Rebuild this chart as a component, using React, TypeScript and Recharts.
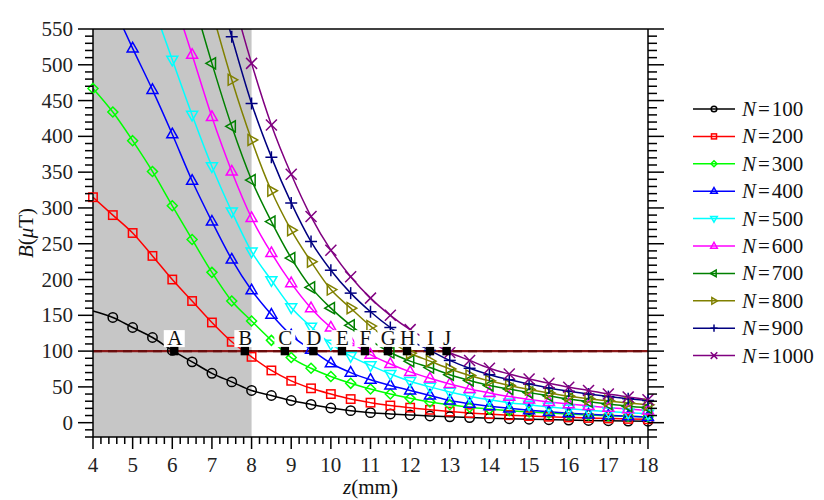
import React from 'react';
import {
  ComposedChart,
  Line,
  XAxis,
  YAxis,
  ReferenceArea,
  ReferenceLine,
  Legend,
} from 'recharts';

// axial distance z (mm), one sample every 0.5 mm
const zMm = [4, 4.5, 5, 5.5, 6, 6.5, 7, 7.5, 8, 8.5, 9, 9.5, 10, 10.5, 11, 11.5, 12, 12.5, 13, 13.5, 14, 14.5, 15, 15.5, 16, 16.5, 17, 17.5, 18];

// field B (uT) on the axis for each winding count
const bN100 = [156, 147, 133, 119, 101, 85, 69, 57, 45, 38, 31, 25.5, 20.5, 16.8, 14, 12.2, 10.8, 9.4, 8.2, 7.2, 6.3, 5.5, 4.8, 4.2, 3.6, 3.1, 2.7, 2.3, 2];
const bN200 = [315, 290, 265, 233, 200, 170, 140, 113, 92, 73, 58.5, 48, 40, 33, 28, 24, 21, 18, 15.5, 13.5, 12, 10.5, 9.3, 8.3, 7.4, 6.6, 5.9, 5.3, 4.8];
const bN300 = [467, 434, 394, 351, 303, 256, 210, 170, 142, 115, 91, 76, 64.5, 55, 47, 40, 34, 29, 25, 21.5, 19, 16.8, 15, 13.4, 12, 10.8, 9.8, 8.9, 8.1];
const bN400 = [643, 583, 523, 465, 403, 338, 281, 228, 185, 151, 122, 102, 83, 70, 60, 52, 45, 38, 31, 26.5, 23, 20, 17.5, 15.2, 13.3, 11.7, 10.3, 9, 8];
const bN500 = [825, 745, 665, 585, 507, 430, 358, 295, 239, 199, 161, 134, 110, 93, 80, 68, 58, 50, 43, 37, 32, 28, 25, 22, 19.5, 17.5, 15.5, 14, 12.5];
const bN600 = [975, 880, 785, 690, 600, 514, 427, 351, 286, 237, 195, 160, 133, 113, 95, 82, 71, 62, 54, 47, 41.5, 36.5, 32.5, 29, 26, 23.5, 21, 19, 17];
const bN700 = [1100, 1000, 900, 800, 700, 598, 502, 414, 339, 281, 230, 189, 160, 136, 115, 98, 86, 77, 67, 59, 52, 47, 42, 37.5, 33, 29.5, 26, 23, 21];
const bN800 = [1200, 1095, 990, 885, 780, 675, 575, 479, 395, 324, 269, 225, 186, 160, 135, 114, 97, 86, 75, 66, 58.5, 52, 46.5, 41.5, 37, 33.5, 30.5, 27.5, 25];
const bN900 = [1270, 1165, 1060, 955, 850, 745, 640, 539, 446, 371, 307, 253, 213, 181, 155, 133, 115, 101, 87, 76, 67, 60, 54, 48.5, 44, 40, 36.5, 33.5, 31];
const bN1000 = [1335, 1230, 1125, 1020, 915, 810, 705, 600, 502, 416, 347, 288, 241, 204, 174, 150, 130, 114, 98, 87, 76, 68, 61, 55, 49.5, 45, 40, 36, 32];

const turns = [100, 200, 300, 400, 500, 600, 700, 800, 900, 1000];
const fields = [bN100, bN200, bN300, bN400, bN500, bN600, bN700, bN800, bN900, bN1000];

// 100 uT threshold and where each curve drops through it
const threshold = 100;
const crossZ = [6.05, 7.83, 8.84, 9.56, 10.28, 10.86, 11.44, 11.92, 12.5, 12.92];
const crossNames = ['A', 'B', 'C', 'D', 'E', 'F', 'G', 'H', 'I', 'J'];

// shaded zone along z
const shadeFrom = 4;
const shadeTo = 8;

// firstDot: index of the first sample that gets a marker
const seriesStyle = [
  { color: '#000000', shape: 'circle', firstDot: 1 },
  { color: '#ff0000', shape: 'square', firstDot: 0 },
  { color: '#00ff00', shape: 'diamond', firstDot: 0 },
  { color: '#0000ff', shape: 'up', firstDot: 0 },
  { color: '#00ffff', shape: 'down', firstDot: 0 },
  { color: '#ff00ff', shape: 'up', firstDot: 0 },
  { color: '#008000', shape: 'left', firstDot: 0 },
  { color: '#808000', shape: 'right', firstDot: 0 },
  { color: '#000080', shape: 'plus', firstDot: 0 },
  { color: '#800080', shape: 'cross', firstDot: 0 },
];

const FONT = '"Liberation Serif", "Times New Roman", serif';
const FS = 21;

const steps = (from: number, to: number, step: number) => {
  const out: number[] = [];
  for (let v = from; v <= to + 1e-9; v += step) out.push(Math.round(v * 100) / 100);
  return out;
};
const xTicks = steps(4, 18, 0.2);
const yTicks = steps(-20, 550, 10);
const isInt = (v: number) => Math.abs(v - Math.round(v)) < 1e-6;

function Marker({ shape, cx, cy, color, k = 1 }: any) {
  const p = { fill: 'none', stroke: color, strokeWidth: 1.5 };
  switch (shape) {
    case 'circle':
      return <circle cx={cx} cy={cy} r={4.7 * k} {...p} />;
    case 'square': {
      const s = 4.2 * k;
      return <rect x={cx - s} y={cy - s} width={2 * s} height={2 * s} {...p} />;
    }
    case 'diamond': {
      const s = 5 * k;
      return <polygon points={`${cx},${cy - s} ${cx + s},${cy} ${cx},${cy + s} ${cx - s},${cy}`} {...p} />;
    }
    case 'up': {
      const s = 5.5 * k;
      return <polygon points={`${cx},${cy - s * 1.1} ${cx + s},${cy + s * 0.65} ${cx - s},${cy + s * 0.65}`} {...p} />;
    }
    case 'down': {
      const s = 5.5 * k;
      return <polygon points={`${cx},${cy + s * 1.1} ${cx + s},${cy - s * 0.65} ${cx - s},${cy - s * 0.65}`} {...p} />;
    }
    case 'left': {
      const s = 5.5 * k;
      return <polygon points={`${cx - s * 1.1},${cy} ${cx + s * 0.65},${cy - s} ${cx + s * 0.65},${cy + s}`} {...p} />;
    }
    case 'right': {
      const s = 5.5 * k;
      return <polygon points={`${cx + s * 1.1},${cy} ${cx - s * 0.65},${cy - s} ${cx - s * 0.65},${cy + s}`} {...p} />;
    }
    case 'plus': {
      const s = 6 * k;
      return (
        <g {...p}>
          <line x1={cx - s} y1={cy} x2={cx + s} y2={cy} />
          <line x1={cx} y1={cy - s} x2={cx} y2={cy + s} />
        </g>
      );
    }
    default: {
      const s = 5.5 * k;
      return (
        <g {...p}>
          <line x1={cx - s} y1={cy - s} x2={cx + s} y2={cy + s} />
          <line x1={cx - s} y1={cy + s} x2={cx + s} y2={cy - s} />
        </g>
      );
    }
  }
}

// frame ticks: long at labelled values, short in between
const BottomTick = ({ x, y, payload }: any) => {
  const major = isInt(payload.value);
  return (
    <g>
      <line x1={x} y1={y} x2={x} y2={y + (major ? 12 : 7)} stroke="#000" strokeWidth={1.5} />
      {major && (
        <text x={x} y={y + 35} textAnchor="middle" fontFamily={FONT} fontSize={FS} fill="#222">
          {Math.round(payload.value)}
        </text>
      )}
    </g>
  );
};

const TopTick = ({ x, y, payload }: any) => (
  <line x1={x} y1={y} x2={x} y2={y - (isInt(payload.value) ? 15 : 10)} stroke="#000" strokeWidth={1.5} />
);

const LeftTick = ({ x, y, payload }: any) => {
  const v = payload.value;
  const major = v % 50 === 0;
  return (
    <g>
      <line x1={x} y1={y} x2={x - (major ? 15 : 8)} y2={y} stroke="#000" strokeWidth={1.5} />
      {major && v >= 0 && (
        <text x={x - 20} y={y + 7} textAnchor="end" fontFamily={FONT} fontSize={FS} fill="#222">
          {v}
        </text>
      )}
    </g>
  );
};

const RightTick = ({ x, y, payload }: any) => (
  <line x1={x} y1={y} x2={x + (payload.value % 50 === 0 ? 16 : 9)} y2={y} stroke="#000" strokeWidth={1.5} />
);

const series = fields.map((vals, i) => ({
  name: `N=${turns[i]}`,
  turns: turns[i],
  rows: zMm.map((z, j) => ({ z, b: vals[j] })),
  ...seriesStyle[i],
}));

const crossRows = crossZ.map((z, i) => ({ z, b: threshold, name: crossNames[i] }));

const CrossDot = ({ cx, cy, payload }: any) => (
  <g>
    <rect x={cx - 10.5} y={cy - 21} width={21} height={17} fill="#fff" />
    <text x={cx + 0.5} y={cy - 6} textAnchor="middle" fontFamily={FONT} fontSize={FS} fill="#111">
      {payload.name}
    </text>
    <rect x={cx - 4.2} y={cy - 4.2} width={8.4} height={8.4} fill="#000" />
  </g>
);

const LegendBox = () => (
  <svg width={136} height={280}>
    {series.map((s, i) => {
      const y = 14 + i * 27.4;
      return (
        <g key={s.name}>
          <line x1={8} y1={y} x2={50} y2={y} stroke={s.color} strokeWidth={1.5} />
          <Marker shape={s.shape} cx={29} cy={y} color={s.color} k={0.6} />
          <text x={57} y={y + 7} fontFamily={FONT} fontSize={FS} fill="#111">
            <tspan fontStyle="italic">N</tspan>
            <tspan dx={2}>=</tspan>
            <tspan dx={2}>{s.turns}</tspan>
          </text>
        </g>
      );
    })}
  </svg>
);

export default function App() {
  return (
    <ComposedChart width={816} height={492} margin={{ top: 6, right: 161, bottom: 23, left: 25 }}>
      <ReferenceArea x1={shadeFrom} x2={shadeTo} y1={-20} y2={550} fill="#c6c6c6" fillOpacity={1} stroke="none" />
      <XAxis
        dataKey="z"
        type="number"
        domain={[4, 18]}
        ticks={xTicks}
        interval={0}
        tickSize={0}
        tickMargin={0}
        height={40}
        axisLine={{ stroke: '#000', strokeWidth: 1.5 }}
        tick={(p: any) => <BottomTick {...p} />}
        label={(p: any) => {
          const vb = p.viewBox;
          return (
            <text x={vb.x + vb.width / 2} y={vb.y + 57} textAnchor="middle" fontFamily={FONT} fontSize={FS} fill="#111">
              <tspan fontStyle="italic">z</tspan>(mm)
            </text>
          );
        }}
      />
      <XAxis
        xAxisId="top"
        orientation="top"
        type="number"
        domain={[4, 18]}
        ticks={xTicks}
        interval={0}
        tickSize={0}
        tickMargin={0}
        height={15}
        axisLine={{ stroke: '#000', strokeWidth: 1.5 }}
        tick={(p: any) => <TopTick {...p} />}
      />
      <YAxis
        type="number"
        domain={[-20, 550]}
        allowDataOverflow
        ticks={yTicks}
        interval={0}
        tickSize={0}
        tickMargin={0}
        width={60}
        axisLine={{ stroke: '#000', strokeWidth: 1.5 }}
        tick={(p: any) => <LeftTick {...p} />}
        label={(p: any) => {
          const vb = p.viewBox;
          const cx = vb.x + vb.width - 60;
          const cy = vb.y + vb.height / 2;
          return (
            <text x={cx} y={cy} transform={`rotate(-90 ${cx} ${cy})`} textAnchor="middle" fontFamily={FONT} fontSize={FS} fill="#111">
              <tspan fontStyle="italic">B</tspan>(<tspan fontStyle="italic">μ</tspan>T)
            </text>
          );
        }}
      />
      <YAxis
        yAxisId="right"
        orientation="right"
        type="number"
        domain={[-20, 550]}
        allowDataOverflow
        ticks={yTicks}
        interval={0}
        tickSize={0}
        tickMargin={0}
        width={15}
        axisLine={{ stroke: '#000', strokeWidth: 1.5 }}
        tick={(p: any) => <RightTick {...p} />}
      />
      {series.map((s) => (
        <Line
          key={s.name}
          name={s.name}
          data={s.rows}
          dataKey="b"
          type="monotone"
          stroke={s.color}
          strokeWidth={1.5}
          dot={(p: any) =>
            p.index < s.firstDot ? (
              <g key={`${s.name}-${p.index}`} />
            ) : (
              <Marker key={`${s.name}-${p.index}`} shape={s.shape} cx={p.cx} cy={p.cy} color={s.color} />
            )
          }
          activeDot={false}
          isAnimationActive={false}
        />
      ))}
      <ReferenceLine y={threshold} stroke="#8a1818" strokeWidth={2.2} />
      <ReferenceLine y={threshold} stroke="#6a0c0c" strokeWidth={2.2} strokeDasharray="9 6" />
      <Line
        data={crossRows}
        dataKey="b"
        stroke="none"
        legendType="none"
        dot={(p: any) => <CrossDot key={`cross-${p.index}`} {...p} />}
        activeDot={false}
        isAnimationActive={false}
      />
      <Legend
        layout="vertical"
        align="center"
        verticalAlign="middle"
        wrapperStyle={{ left: 677, top: 87, width: 136 }}
        content={() => <LegendBox />}
      />
    </ComposedChart>
  );
}
